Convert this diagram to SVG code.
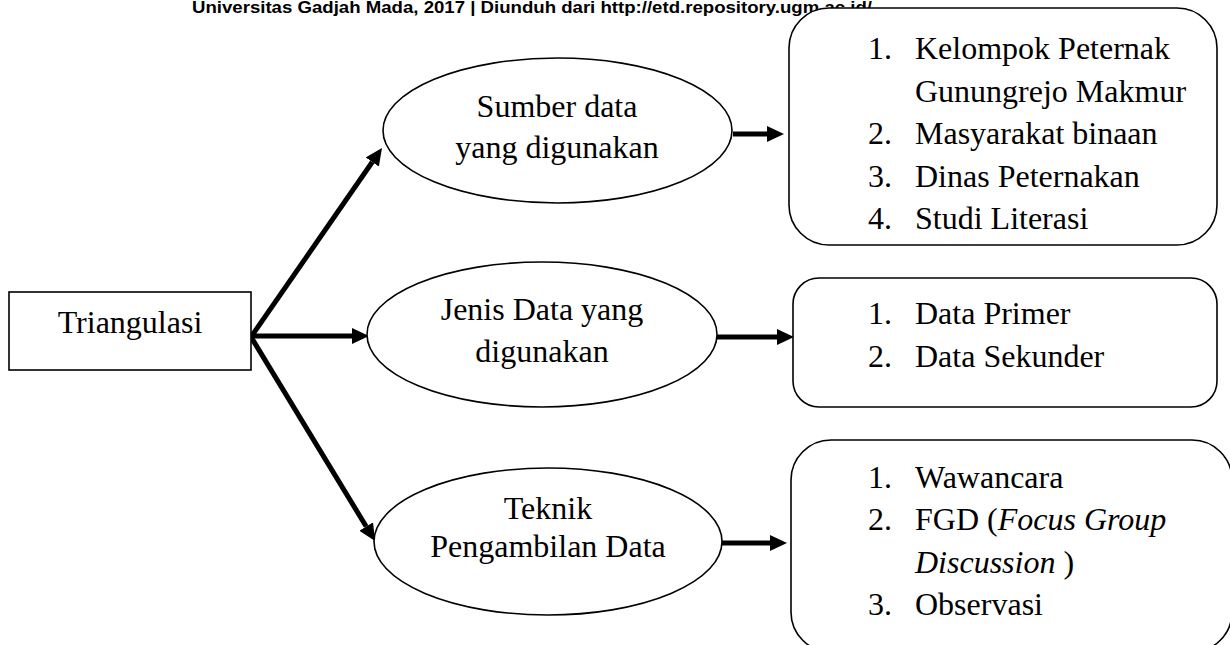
<svg xmlns="http://www.w3.org/2000/svg" width="1230" height="645" viewBox="0 0 1230 645">
<style>
.shape{fill:#fff;stroke:#000;stroke-width:1.6}
.conn{stroke:#000;stroke-width:5;fill:none}
.t{font-family:"Liberation Serif","Times New Roman",serif;font-size:32px;fill:#000}
.c{text-anchor:middle}
.hdr{font-family:"Liberation Sans",Arial,sans-serif;font-weight:bold;font-size:16.5px;fill:#000}
</style>
<defs>
<marker id="ah" markerUnits="userSpaceOnUse" markerWidth="18" markerHeight="18" refX="0" refY="8" orient="auto">
<path d="M0,0 L17,8 L0,16 z" fill="#000"/>
</marker>
</defs>
<rect width="1230" height="645" fill="#fff"/>
<text class="hdr" x="192" y="13" textLength="680" lengthAdjust="spacingAndGlyphs">Universitas Gadjah Mada, 2017 | Diunduh dari http://etd.repository.ugm.ac.id/</text>
<g id="connectors">
<line class="conn" x1="251" y1="337" x2="372.3" y2="162" marker-end="url(#ah)"/>
<line class="conn" x1="251" y1="336" x2="352" y2="336" marker-end="url(#ah)"/>
<line class="conn" x1="251" y1="337" x2="366.2" y2="526.5" marker-end="url(#ah)"/>
<line class="conn" x1="733" y1="134" x2="767" y2="134" marker-end="url(#ah)"/>
<line class="conn" x1="717" y1="337" x2="777" y2="337" marker-end="url(#ah)"/>
<line class="conn" x1="722" y1="543" x2="770" y2="543" marker-end="url(#ah)"/>
</g>
<g id="triangulasi">
<rect class="shape" x="9" y="292" width="242" height="78"/>
<text class="t c" x="130" y="333">Triangulasi</text>
</g>
<g id="sumber">
<ellipse class="shape" cx="557.5" cy="130.5" rx="174.5" ry="72.5"/>
<text class="t c" x="557" y="117">Sumber data</text>
<text class="t c" x="557" y="158">yang digunakan</text>
</g>
<g id="jenis">
<ellipse class="shape" cx="542" cy="334.5" rx="175" ry="72.5"/>
<text class="t c" x="542" y="320">Jenis Data yang</text>
<text class="t c" x="542" y="362">digunakan</text>
</g>
<g id="teknik">
<ellipse class="shape" cx="548" cy="541.5" rx="174" ry="73.5"/>
<text class="t c" x="548" y="519">Teknik</text>
<text class="t c" x="548" y="557">Pengambilan Data</text>
</g>
<g id="box-sumber">
<rect class="shape" x="789" y="8" width="428" height="237" rx="40" ry="40"/>
<text class="t" x="868" y="59">1.</text><text class="t" x="915" y="59">Kelompok Peternak</text>
<text class="t" x="915" y="102">Gunungrejo Makmur</text>
<text class="t" x="868" y="144">2.</text><text class="t" x="915" y="144">Masyarakat binaan</text>
<text class="t" x="868" y="187">3.</text><text class="t" x="915" y="187">Dinas Peternakan</text>
<text class="t" x="868" y="229">4.</text><text class="t" x="915" y="229">Studi Literasi</text>
</g>
<g id="box-jenis">
<rect class="shape" x="793" y="278" width="424" height="129" rx="26" ry="26"/>
<text class="t" x="868" y="324">1.</text><text class="t" x="915" y="324">Data Primer</text>
<text class="t" x="868" y="367">2.</text><text class="t" x="915" y="367">Data Sekunder</text>
</g>
<g id="box-teknik">
<rect class="shape" x="791" y="440" width="441" height="212" rx="40" ry="40"/>
<text class="t" x="868" y="488">1.</text><text class="t" x="915" y="488">Wawancara</text>
<text class="t" x="868" y="530">2.</text><text class="t" x="915" y="530">FGD (<tspan font-style="italic">Focus Group</tspan></text>
<text class="t" x="915" y="573"><tspan font-style="italic">Discussion</tspan> )</text>
<text class="t" x="868" y="615">3.</text><text class="t" x="915" y="615">Observasi</text>
</g>
</svg>
